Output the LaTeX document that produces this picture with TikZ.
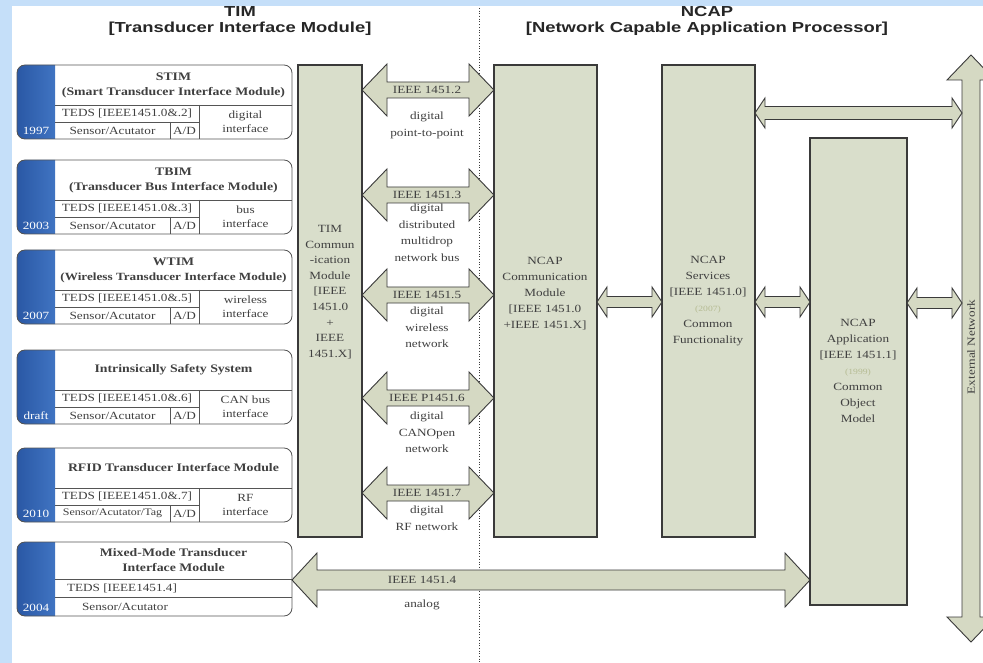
\documentclass[tikz,border=0pt]{standalone}
\usepackage{fontspec}
\setmainfont{Liberation Serif}[FakeStretch=1.2]
\newfontfamily\hdrfont{Liberation Sans}[FakeStretch=1.27]
\usetikzlibrary{calc}
\definecolor{bgblue}{HTML}{C5DFF9}
\definecolor{tabdark}{HTML}{2A58A5}
\definecolor{tablight}{HTML}{4074C2}
\definecolor{boxfill}{HTML}{D9DECB}
\definecolor{arrfill}{HTML}{D5D9C3}
\definecolor{edge}{HTML}{3A3A3A}
\definecolor{modedge}{HTML}{555555}
\definecolor{txt}{HTML}{404040}
\definecolor{faint}{HTML}{B5BB92}
\tikzset{
  bigbox/.style={draw=edge, fill=boxfill, line width=1.1pt, anchor=north west, inner sep=0pt, outer sep=0pt},
  blockarrow/.style={draw=edge, fill=arrfill, line width=0.9pt, line join=miter},
  modframe/.style={fill=white, minimum width=275pt, minimum height=74pt, anchor=north west, inner sep=0pt, outer sep=0pt},
  modoutline/.style={draw=modedge, line width=0.8pt, rounded corners=8pt},
  modline/.style={draw=modedge, line width=0.6pt},
  modhead/.style={text=txt, font=\bfseries\fontsize{11.5}{15}\selectfont, align=center, inner sep=0pt},
  celltext/.style={text=txt, font=\fontsize{11}{14}\selectfont, align=center, inner sep=0pt},
  yeartext/.style={text=white, font=\fontsize{11}{12}\selectfont, inner sep=0pt},
  bodytext/.style={text=txt, font=\fontsize{11}{16}\selectfont, align=center, inner sep=0pt},
  arrlabel/.style={text=txt, font=\fontsize{11}{16}\selectfont, inner sep=0pt},
  sublabel/.style={text=txt, font=\fontsize{11}{16.5}\selectfont, align=center, inner sep=0pt, anchor=north},
  titletext/.style={text=black!85, font=\hdrfont\bfseries\fontsize{14.5}{17}\selectfont, inner sep=0pt},
  divider/.style={draw=edge, line width=0.7pt, dotted},
}
\newcommand{\harrow}[5]{%
  \path[blockarrow] let \p1=#1, \p2=#2 in
    (\x1,\y1) -- (\x1+#5pt,\y1+#3pt) -- (\x1+#5pt,\y1+#4pt) -- (\x2-#5pt,\y1+#4pt)
    -- (\x2-#5pt,\y1+#3pt) -- (\x2,\y1) -- (\x2-#5pt,\y1-#3pt) -- (\x2-#5pt,\y1-#4pt)
    -- (\x1+#5pt,\y1-#4pt) -- (\x1+#5pt,\y1-#3pt) -- cycle;}
\newcommand{\varrow}[5]{%
  \path[blockarrow] let \p1=#1, \p2=#2 in
    (\x1,\y1) -- (\x1+#3pt,\y1-#5pt) -- (\x1+#4pt,\y1-#5pt) -- (\x1+#4pt,\y2+#5pt)
    -- (\x1+#3pt,\y2+#5pt) -- (\x1,\y2) -- (\x1-#3pt,\y2+#5pt) -- (\x1-#4pt,\y2+#5pt)
    -- (\x1-#4pt,\y1-#5pt) -- (\x1-#3pt,\y1-#5pt) -- cycle;}
\newcommand{\tmod}[7]{%
  \node[modframe] (#1) at (17,#2) {};
  \begin{scope}
    \clip[rounded corners=8pt] (#1.north west) rectangle (#1.south east);
    \fill[left color=tabdark, right color=tablight] (#1.north west) rectangle ([xshift=38pt]#1.south west);
  \end{scope}
  \draw[modoutline] (#1.north west) rectangle (#1.south east);
  \draw[modline] (55,#2+40) -- (292,#2+40) (55,#2+57) -- (199,#2+57)
    (199,#2+40) -- (199,#2+74) (170,#2+57) -- (170,#2+74);
  \node[modhead] (#1-h) at (173.5,#2+20) {#3};
  \node[celltext] (#1-t) at (127,#2+48.5) {#4};
  \node[celltext] (#1-s) at (112.5,#2+65.5) {#5};
  \node[celltext] (#1-ad) at (184.5,#2+65.5) {A/D};
  \node[celltext] (#1-r) at (245.5,#2+57) {#6};
  \node[yeartext] (#1-y) at (36,#2+66) {#7};
}
\begin{document}
\begin{tikzpicture}[x=1pt,y=-1pt]
\useasboundingbox (0,0) rectangle (983,663);
\begin{scope}
\clip (0,0) rectangle (983,663);
\fill[white] (0,0) rectangle (983,663);
\fill[bgblue] (0,0) rectangle (983,6);
\fill[bgblue] (0,0) rectangle (12,663);

% titles
\node[titletext] (timt1) at (240,12) {TIM};
\node[titletext] (timt2) at (240,29) {[Transducer Interface Module]};
\node[titletext] (ncapt1) at (707,12) {NCAP};
\node[titletext] (ncapt2) at (707,29) {[Network Capable Application Processor]};

% divider
\coordinate (divtop) at (479,8);
\coordinate (divbot) at (479,663);
\draw[divider] (divtop) -- (divbot);

% TIM modules
\tmod{stim}{65}{STIM\\(Smart Transducer Interface Module)}{TEDS [IEEE1451.0\&.2]}{Sensor/Acutator}{digital\\interface}{1997}
\tmod{tbim}{160}{TBIM\\(Transducer Bus Interface Module)}{TEDS [IEEE1451.0\&.3]}{Sensor/Acutator}{bus\\interface}{2003}
\tmod{wtim}{250}{WTIM\\{\fontsize{11}{15}\selectfont(Wireless Transducer Interface Module)}}{TEDS [IEEE1451.0\&.5]}{Sensor/Acutator}{wireless\\interface}{2007}
\tmod{iss}{350}{Intrinsically Safety System}{TEDS [IEEE1451.0\&.6]}{Sensor/Acutator}{CAN bus\\interface}{draft}
\tmod{rfid}{448}{RFID Transducer Interface Module}{TEDS [IEEE1451.0\&.7]}{{\fontsize{10}{12}\selectfont Sensor/Acutator/Tag}}{RF\\interface}{2010}

% mixed-mode module
\node[modframe] (mix) at (17,542) {};
\begin{scope}
  \clip[rounded corners=8pt] (mix.north west) rectangle (mix.south east);
  \fill[left color=tabdark, right color=tablight] (mix.north west) rectangle ([xshift=38pt]mix.south west);
\end{scope}
\draw[modoutline] (mix.north west) rectangle (mix.south east);
\draw[modline] (55,579) -- (292,579) (55,597) -- (292,597);
\node[modhead] (mix-h) at (173.5,560) {Mixed-Mode Transducer\\Interface Module};
\node[celltext] (mix-t) at (122,588) {TEDS [IEEE1451.4]};
\node[celltext] (mix-s) at (125,607) {Sensor/Acutator};
\node[yeartext] (mix-y) at (36,608) {2004};

% big boxes
\node[bigbox, minimum width=64pt, minimum height=472pt] (timc) at (298,65) {};
\node[bigbox, minimum width=103pt, minimum height=472pt] (ncc) at (494,65) {};
\node[bigbox, minimum width=93pt, minimum height=472pt] (svc) at (662,65) {};
\node[bigbox, minimum width=97pt, minimum height=467pt] (app) at (810,138) {};

\node[bodytext, font=\fontsize{11}{15.6}\selectfont] (timct) at (330,292)
  {TIM\\Commun\\-ication\\Module\\{}[IEEE\\1451.0\\+\\IEEE\\1451.X]};
\node[bodytext] (ncct) at (545,294)
  {NCAP\\Communication\\Module\\{}[IEEE 1451.0\\+IEEE 1451.X]};
\node[bodytext] (svct) at (708,301)
  {NCAP\\Services\\{}[IEEE 1451.0]\\{\fontsize{8}{10}\selectfont\color{faint}(2007)}\\Common\\Functionality};
\node[bodytext] (appt) at (858,371)
  {NCAP\\Application\\{}[IEEE 1451.1]\\{\fontsize{8}{10}\selectfont\color{faint}(1999)}\\Common\\Object\\Model};

% external network arrow
\coordinate (extT) at (971,55);
\coordinate (extB) at (971,642);
\coordinate (extL) at (962,350);
\varrow{(extT)}{(extB)}{24}{9}{25}
\node[arrlabel, rotate=90] (ext) at (971,347) {External Network};

% TIM <-> NCAP arrows
\coordinate (r2) at (427,90);
\coordinate (r3) at (427,195);
\coordinate (r5) at (427,295);
\coordinate (r6) at (427,398);
\coordinate (r7) at (427,493);
\coordinate (r4) at (422,580);
\harrow{(timc.east |- r2)}{(ncc.west |- r2)}{26}{8}{25}
\harrow{(timc.east |- r3)}{(ncc.west |- r3)}{26}{8}{25}
\harrow{(timc.east |- r5)}{(ncc.west |- r5)}{26}{8}{25}
\harrow{(timc.east |- r6)}{(ncc.west |- r6)}{26}{8}{25}
\harrow{(timc.east |- r7)}{(ncc.west |- r7)}{26}{8}{25}
\harrow{(mix.east |- r4)}{(app.west |- r4)}{27}{10}{25}

\node[arrlabel] (a2) at (r2) {IEEE 1451.2};
\node[arrlabel] (a3) at (r3) {IEEE 1451.3};
\node[arrlabel] (a5) at (r5) {IEEE 1451.5};
\node[arrlabel] (a6) at (r6) {IEEE P1451.6};
\node[arrlabel] (a7) at (r7) {IEEE 1451.7};
\node[arrlabel] (a4) at (r4) {IEEE 1451.4};
\node[sublabel] (a2s) at (427,112) {digital\\point-to-point};
\node[sublabel] (a3s) at (427,204) {digital\\distributed\\multidrop\\network bus};
\node[sublabel] (a5s) at (427,307) {digital\\wireless\\network};
\node[sublabel] (a6s) at (427,412) {digital\\CANOpen\\network};
\node[sublabel] (a7s) at (427,506) {digital\\RF network};
\node[sublabel] (a4s) at (422,600) {analog};

% NCAP internal arrows
\coordinate (q0) at (850,113);
\coordinate (q1) at (630,302);
\coordinate (q2) at (930,303);
\harrow{(svc.east |- q0)}{(extL |- q0)}{15}{6.5}{10}
\harrow{(ncc.east |- q1)}{(svc.west |- q1)}{15}{5.5}{10}
\harrow{(svc.east |- q1)}{(app.west |- q1)}{15}{5.5}{10}
\harrow{(app.east |- q2)}{(extL |- q2)}{15}{5.5}{10}
\end{scope}
\end{tikzpicture}
\end{document}
